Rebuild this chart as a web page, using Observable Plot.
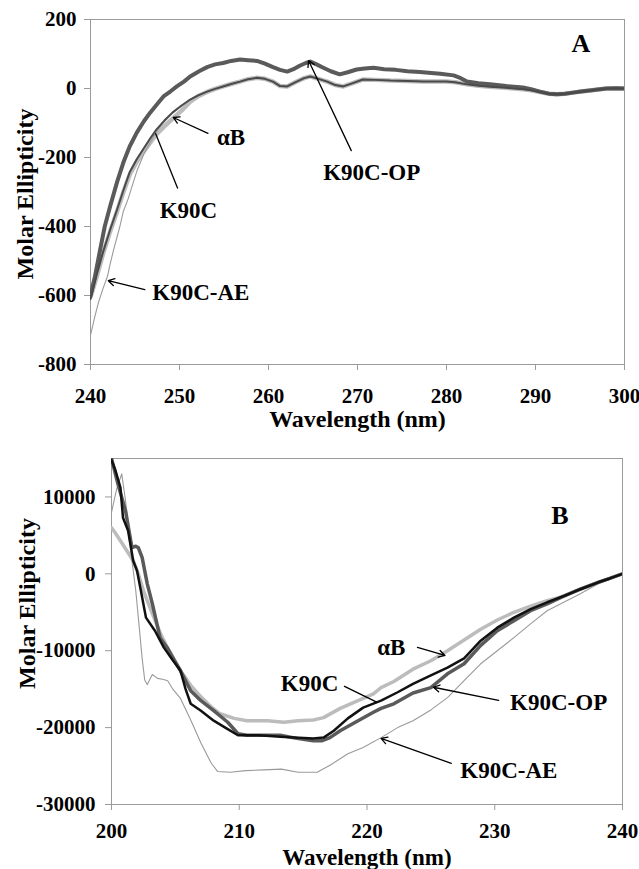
<!DOCTYPE html>
<html>
<head>
<meta charset="utf-8">
<script src="https://cdn.jsdelivr.net/npm/d3@7"></script>
<script src="https://cdn.jsdelivr.net/npm/@observablehq/plot@0.6"></script>
<style>
  html, body { margin: 0; padding: 0; background: white; }
  #wrap { width: 639px; }
  #wrap svg { display: block; }
</style>
</head>
<body>
<div id="wrap"></div>
<script>
// ---------- Panel A (240–300 nm) : [wavelength, molar ellipticity] ----------
const A_K90C_OP = [[240,-600],[240.5,-545],[241.1,-465],[241.6,-400],[242.2,-342],[243,-270],[243.7,-214],[244.4,-168],[245.2,-128],[246,-95],[246.7,-70],[247.5,-45],[248.2,-23],[249,-8],[249.7,6],[250.5,20],[251.2,35],[252.2,50],[253.1,62],[254,70],[254.9,74],[255.8,80],[256.8,84],[257.7,82],[258.7,80],[259.6,72],[260.5,62],[261.3,54],[262.1,49],[262.8,56],[263.5,66],[264.2,74],[264.7,78],[265.4,70],[266.1,61],[267,50],[268,41],[268.9,47],[269.9,55],[270.8,58],[271.8,60],[273,56],[274.3,54],[275.6,50],[277,48],[278.3,45],[279.3,43],[280.8,38],[281.6,30],[282.3,20],[283.6,15],[284.9,12],[286.7,7],[288.6,3],[289.5,-2],[290.5,-9],[291.5,-15],[292.4,-17],[293.3,-15],[294.2,-12],[295.1,-9],[296.1,-6],[297,-3],[298,0],[299,1],[300,0]];
const A_K90C = [[240,-610],[240.7,-540],[241.4,-475],[242.2,-410],[243,-350],[243.7,-295],[244.4,-243],[245.2,-205],[245.9,-177],[246.7,-145],[247.4,-119],[248.3,-93],[249.2,-70],[250.2,-50],[251.2,-32],[252.1,-20],[253.1,-9],[254,-1],[254.9,6],[255.8,13],[256.8,20],[257.7,27],[258.7,31],[259.6,28],[260.5,20],[261.3,7],[262.1,6],[263,18],[264,30],[264.7,35],[265.6,28],[266.6,20],[267.5,10],[268.4,6],[269.4,15],[270.6,26],[272,25],[273.7,23],[275.6,22],[277.4,20],[280,20],[281,18],[282.3,12],[283.6,8],[284.9,5],[286.7,2],[288.6,-2],[289.5,-5],[290.5,-10],[291.5,-15],[292.4,-17],[293.3,-15],[294.2,-12],[295.1,-9],[296.1,-6],[297,-3],[298,0],[299,1],[300,0]];
const A_aB = [[240,-605],[240.7,-545],[241.4,-480],[242.2,-415],[243,-355],[243.7,-300],[244.4,-250],[245.2,-212],[245.9,-185],[246.7,-157],[247.4,-133],[248.3,-110],[249.2,-88],[250.2,-65],[251.2,-38],[252.1,-22],[253.1,-10],[254,-1],[254.9,6],[255.8,13],[256.8,20],[257.7,27],[258.7,31],[259.6,28],[260.5,20],[261.3,7],[262.1,6],[263,18],[264,30],[264.7,35],[265.6,28],[266.6,20],[267.5,10],[268.4,6],[269.4,15],[270.6,26],[272,25],[273.7,23],[275.6,22],[277.4,20],[280,20],[281,18],[282.3,12],[283.6,8],[284.9,5],[286.7,2],[288.6,-2],[289.5,-5],[290.5,-10],[291.5,-15],[292.4,-17],[293.3,-15],[294.2,-12],[295.1,-9],[296.1,-6],[297,-3],[298,0],[299,1],[300,0]];
const A_K90C_AE = [[240,-715],[240.5,-660],[240.9,-620],[241.4,-580],[241.9,-545],[242.2,-510],[242.6,-467],[243.3,-400],[243.7,-355],[244.2,-322],[245.2,-240],[246,-190],[246.7,-157],[247.4,-125],[248.2,-99],[249.2,-72],[250.2,-50],[251.2,-32],[252.1,-20],[253.1,-9],[254,-1],[254.9,6],[255.8,13],[256.8,20],[257.7,27],[258.7,31],[259.6,28],[260.5,20],[261.3,8],[262.1,7],[263,18],[264,30],[264.7,35],[265.6,28],[266.6,20],[267.5,10],[268.4,6],[269.4,15],[270.6,26],[272,25],[273.7,23],[275.6,22],[277.4,20],[280,20],[282.3,12],[284.9,5],[288.6,-2],[290.5,-10],[292.4,-17],[294.2,-12],[296.1,-6],[298,0],[300,0]];

// ---------- Panel B (200–240 nm) ----------
const B_K90C = [[200,14800],[200.3,13500],[200.7,11200],[200.9,7300],[201.3,5600],[201.7,1700],[202,400],[202.3,-2200],[202.7,-5700],[203.4,-7400],[204.1,-9600],[204.7,-11000],[205.4,-12600],[205.8,-15000],[206.2,-16900],[207,-17800],[208,-19100],[209,-20100],[209.9,-21000],[210.6,-21000],[211.5,-21000],[212.4,-21100],[213.2,-21200],[214.3,-21300],[215.8,-21400],[216.6,-21300],[217.4,-20400],[218.5,-18800],[219.7,-17400],[221.1,-16500],[222.4,-15400],[223.6,-14300],[225,-13200],[226.3,-12200],[227.6,-11000],[228.9,-8700],[230.2,-7000],[231.5,-5700],[232.8,-4600],[234.1,-3700],[235.4,-2900],[236.7,-2000],[238.1,-1100],[239,-600],[240,0]];
const B_K90C_OP = [[200,15000],[200.5,11700],[201.1,8200],[201.6,3400],[201.9,3600],[202.1,3400],[202.4,2100],[202.8,-1300],[203.2,-3900],[203.8,-8300],[204.4,-9700],[204.9,-11200],[205.4,-12600],[206.2,-15200],[207,-16500],[208,-17800],[209.1,-19300],[209.9,-20800],[210.6,-21000],[212,-21000],[213.2,-21000],[214.5,-21400],[215.8,-21700],[216.5,-21700],[217.1,-21300],[217.9,-20400],[219.3,-19100],[220.5,-18000],[221.1,-17500],[222.1,-16900],[223.6,-15500],[225,-14800],[226.3,-13000],[227.6,-11700],[228.9,-9300],[230.2,-7400],[231.5,-6100],[232.8,-4800],[234.1,-3900],[235.4,-2900],[236.7,-2000],[238.1,-1100],[239,-600],[240,0]];
const B_aB = [[200,6000],[200.3,5300],[200.7,4300],[201.2,3000],[201.7,1700],[202.1,0],[202.5,-2200],[203.2,-5200],[203.9,-8000],[204.5,-10000],[205.4,-12600],[206.2,-14500],[207,-16000],[207.8,-17300],[208.5,-18200],[209.6,-18800],[210.6,-19100],[212.2,-19100],[213.5,-19300],[214.6,-19100],[215.8,-19000],[216.6,-18700],[217.9,-17500],[219.3,-16500],[220.5,-15600],[221.1,-14800],[222.1,-14000],[223.6,-12400],[225,-11300],[226.3,-10000],[227.6,-8600],[228.9,-7200],[230.2,-6000],[231.5,-5000],[232.8,-4200],[234.1,-3500],[235.4,-2900],[236.7,-2000],[238.1,-1100],[239,-600],[240,0]];
const B_K90C_AE = [[200,8000],[200.4,11000],[200.8,13000],[201.1,9500],[201.5,3000],[201.9,-2200],[202.1,-5700],[202.4,-11000],[202.6,-13800],[202.8,-14400],[203.2,-13100],[203.6,-13600],[204,-13700],[204.4,-13900],[204.8,-15000],[205.4,-16200],[206.2,-19000],[207,-22000],[207.8,-24600],[208.3,-25700],[209.3,-25800],[210.5,-25600],[211.9,-25500],[213.3,-25400],[214.6,-25800],[216.1,-25800],[217.1,-24900],[218.5,-23400],[219.7,-22600],[221.1,-21300],[222.4,-20000],[223.6,-19100],[225,-17700],[226.3,-16100],[227.6,-13900],[228.9,-11700],[230.2,-10000],[231.5,-8300],[232.8,-6500],[234.1,-4800],[235.4,-3700],[236.7,-2600],[238.1,-1300],[239,-700],[240,0]];

// ---------- Ticks ----------
const xTicksA = [240, 250, 260, 270, 280, 290, 300];
const yTicksA = [-800, -600, -400, -200, 0, 200];
const xTicksB = [200, 210, 220, 230, 240];
const yTicksB = [-30000, -20000, -10000, 0, 10000];

// ---------- Annotations (data coordinates) ----------
const labelsA = [
  {label: "A", x: 295.1, y: 130, size: 26},
  {label: "αB", x: 255.8, y: -142, size: 23},
  {label: "K90C", x: 251.0, y: -354, size: 23},
  {label: "K90C-OP", x: 271.6, y: -243, size: 23},
  {label: "K90C-AE", x: 252.4, y: -591, size: 23}
];
const arrowsA = [
  {x1: 253.2, y1: -130, x2: 249.3, y2: -84},
  {x1: 269.3, y1: -180, x2: 264.5, y2: 81},
  {x1: 246.1, y1: -583, x2: 242.0, y2: -557}
];
const linksA = [{x1: 249.8, y1: -290, x2: 247.3, y2: -130}];

const labelsB = [
  {label: "B", x: 235.1, y: 7580, size: 26},
  {label: "αB", x: 221.9, y: -9560, size: 23},
  {label: "K90C", x: 215.5, y: -14260, size: 23},
  {label: "K90C-OP", x: 235.0, y: -16730, size: 23},
  {label: "K90C-AE", x: 231.1, y: -25550, size: 23}
];
const arrowsB = [
  {x1: 223.95, y1: -9580, x2: 226.1, y2: -10620},
  {x1: 230.3, y1: -16450, x2: 225.2, y2: -14750},
  {x1: 226.6, y1: -24650, x2: 221.1, y2: -21400}
];
const linksB = [{x1: 218.2, y1: -14600, x2: 220.8, y2: -16710}];

const FONT = '"Liberation Serif", "Times New Roman", Times, serif';

function panel(o) {
  const fmt = d => String(d);
  return Plot.plot({
    width: 639,
    height: o.height,
    marginTop: o.mt, marginBottom: o.mb, marginLeft: o.ml, marginRight: o.mr,
    style: {fontFamily: FONT, fontWeight: "bold", fontSize: "21px", color: "black", background: "white"},
    x: {domain: o.xDomain},
    y: {domain: o.yDomain},
    marks: [
      Plot.frame({stroke: "#9a9a9a", strokeWidth: 1}),
      Plot.axisX({ticks: o.xTicks, tickSize: 6, tickPadding: o.xPad, tickFormat: fmt, label: null, stroke: "#9a9a9a", fill: "black", fontSize: 21}),
      Plot.axisY({ticks: o.yTicks, tickSize: 6, tickPadding: o.yPad, tickFormat: fmt, label: null, stroke: "#9a9a9a", fill: "black", fontSize: 21}),
      Plot.line(o.aB, {x: d => d[0], y: d => d[1], stroke: "#bcbcbc", strokeWidth: o.aBw, clip: true}),
      Plot.line(o.AE, {x: d => d[0], y: d => d[1], stroke: "#9a9a9a", strokeWidth: 1.1, clip: true}),
      Plot.line(o.OP, {x: d => d[0], y: d => d[1], stroke: "#5a5a5a", strokeWidth: o.OPw, clip: true}),
      Plot.line(o.K, {x: d => d[0], y: d => d[1], stroke: o.Kc, strokeWidth: o.Kw, clip: true}),
      Plot.arrow(o.arrows, {x1: "x1", y1: "y1", x2: "x2", y2: "y2", stroke: "black", strokeWidth: 1.3, headLength: 8}),
      Plot.link(o.links, {x1: "x1", y1: "y1", x2: "x2", y2: "y2", stroke: "black", strokeWidth: 1.3}),
      Plot.text(o.labels, {x: "x", y: "y", text: "label", fontSize: d => d.size, fontWeight: "bold", fill: "black"}),
      Plot.text(["Wavelength (nm)"], {text: d => d, frameAnchor: "bottom", textAnchor: "middle", lineAnchor: "middle", dy: o.xtDy, fontSize: o.xtSize, fontWeight: "bold", fill: "black"}),
      Plot.text(["Molar Ellipticity"], {text: d => d, frameAnchor: "left", textAnchor: "middle", lineAnchor: "middle", rotate: -90, dx: o.ytDx, dy: o.ytDy, fontSize: 24, fontWeight: "bold", fill: "black"})
    ]
  });
}

const wrap = document.getElementById("wrap");
wrap.append(panel({
  height: 432, mt: 19, mb: 68, ml: 90, mr: 15,
  xDomain: [240, 300], yDomain: [-800, 200], xTicks: xTicksA, yTicks: yTicksA,
  xPad: 18, yPad: 8,
  aB: A_aB, AE: A_K90C_AE, OP: A_K90C_OP, K: A_K90C,
  aBw: 4.5, OPw: 4, Kc: "#4a4a4a", Kw: 2,
  arrows: arrowsA, links: linksA, labels: labelsA,
  xtDy: 55, xtSize: 24, ytDx: -65, ytDy: 2
}));
wrap.append(panel({
  height: 437, mt: 26, mb: 65, ml: 111, mr: 17,
  xDomain: [200, 240], yDomain: [-30000, 15000], xTicks: xTicksB, yTicks: yTicksB,
  xPad: 13, yPad: 10,
  aB: B_aB, AE: B_K90C_AE, OP: B_K90C_OP, K: B_K90C,
  aBw: 3.5, OPw: 3.5, Kc: "#111111", Kw: 2.5,
  arrows: arrowsB, links: linksB, labels: labelsB,
  xtDy: 53, xtSize: 23, ytDx: -84, ytDy: -28
}));
</script>
</body>
</html>
